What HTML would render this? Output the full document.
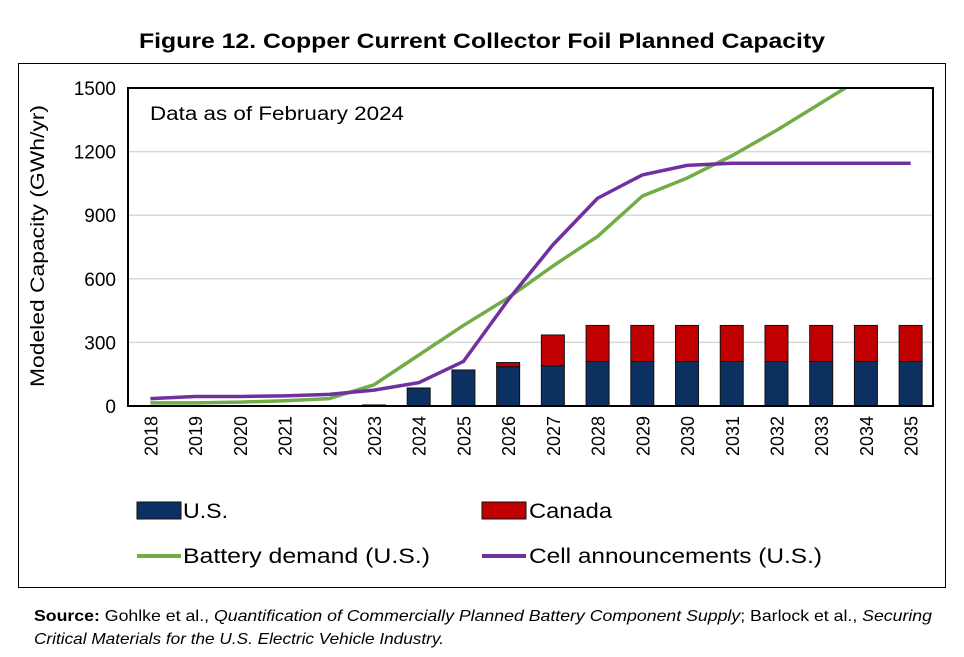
<!DOCTYPE html>
<html><head><meta charset="utf-8"><style>
body{margin:0;background:#fff;width:964px;height:652px;overflow:hidden;font-family:"Liberation Sans",sans-serif}
</style></head><body>
<svg id="c" width="964" height="652" viewBox="0 0 964 652" xmlns="http://www.w3.org/2000/svg">
<text x="482" y="48" text-anchor="middle" font-size="21" font-weight="bold" textLength="686" lengthAdjust="spacingAndGlyphs">Figure 12. Copper Current Collector Foil Planned Capacity</text>
<rect x="18.5" y="63.5" width="927" height="524" fill="none" stroke="#000" stroke-width="1"/>
<g id="grid"></g><g id="bars"></g><g id="lines"></g><g id="axes"></g>
<text x="150" y="120" font-size="19" textLength="254" lengthAdjust="spacingAndGlyphs">Data as of February 2024</text>
<text transform="translate(44,246) rotate(-90)" text-anchor="middle" font-size="19" textLength="282" lengthAdjust="spacingAndGlyphs">Modeled Capacity (GWh/yr)</text>
<g>
<rect x="137" y="502" width="44" height="17" fill="#0c3060" stroke="#111"/>
<text x="183" y="518" font-size="21" textLength="45" lengthAdjust="spacingAndGlyphs">U.S.</text>
<rect x="482" y="502" width="44" height="17" fill="#c00000" stroke="#111"/>
<text x="529" y="518" font-size="21" textLength="83" lengthAdjust="spacingAndGlyphs">Canada</text>
<line x1="137" y1="556" x2="181" y2="556" stroke="#70ad47" stroke-width="4"/>
<text x="183" y="563" font-size="21" textLength="247" lengthAdjust="spacingAndGlyphs">Battery demand (U.S.)</text>
<line x1="482" y1="556" x2="526" y2="556" stroke="#7030a0" stroke-width="4"/>
<text x="529" y="563" font-size="21" textLength="293" lengthAdjust="spacingAndGlyphs">Cell announcements (U.S.)</text>
</g>
<text x="34" y="621" font-size="16" textLength="898" lengthAdjust="spacingAndGlyphs"><tspan font-weight="bold">Source:</tspan> Gohlke et al., <tspan font-style="italic">Quantification of Commercially Planned Battery Component Supply</tspan>; Barlock et al., <tspan font-style="italic">Securing</tspan></text>
<text x="34" y="644" font-size="16" font-style="italic" textLength="410" lengthAdjust="spacingAndGlyphs">Critical Materials for the U.S. Electric Vehicle Industry.</text>
</svg>
<script>
const years=['2018','2019','2020','2021','2022','2023','2024','2025','2026','2027','2028','2029','2030','2031','2032','2033','2034','2035'];
const usValues=[0,0,0,0,0,5,85,170,185,190,210,210,210,210,210,210,210,210];
const canadaValues=[0,0,0,0,0,0,0,0,20,145,170,170,170,170,170,170,170,170];
const batteryDemand=[15,15,18,25,35,100,240,380,510,660,800,990,1075,1180,1300,1430,1560,1700];
const cellAnnouncements=[35,45,45,48,55,75,110,210,500,760,980,1090,1135,1145,1145,1145,1145,1145];
const yTicks=[0,300,600,900,1200,1500];
const NS='http://www.w3.org/2000/svg';
const L=128,R=933,T=88,B=406,YMAX=1500;
const step=(R-L)/years.length;
function x(i){return L+step*(i+0.5);}
function y(v){return B-(v/YMAX)*(B-T);}
function mk(tag,attrs,parent){const e=document.createElementNS(NS,tag);for(const k in attrs)e.setAttribute(k,attrs[k]);parent.appendChild(e);return e;}
const grid=document.getElementById('grid'),bars=document.getElementById('bars'),lines=document.getElementById('lines'),axes=document.getElementById('axes');
yTicks.forEach(t=>{
 if(t>0&&t<YMAX){const g=mk('line',{x1:L,x2:R,y1:y(t),y2:y(t),stroke:'#d9d9d9','stroke-width':1.5},grid);
 
 }
 const tx=mk('text',{x:L-12,y:y(t)+7,'text-anchor':'end','font-size':19},axes);tx.textContent=t;
 
 
});
const bw=23;
years.forEach((yr,i)=>{
 if(usValues[i]>0){const r=mk('rect',{x:x(i)-bw/2,y:y(usValues[i]),width:bw,height:B-y(usValues[i]),fill:'#0c3060',stroke:'#111','stroke-width':1},bars);
 
 }
 if(canadaValues[i]>0){const top=usValues[i]+canadaValues[i];const r=mk('rect',{x:x(i)-bw/2,y:y(top),width:bw,height:y(usValues[i])-y(top),fill:'#c00000',stroke:'#111','stroke-width':1},bars);
 
 }
 const tx=mk('text',{transform:`translate(${x(i)+7},${B+50}) rotate(-90)`,'font-size':18},axes);tx.textContent=yr;
 
 
});
const cp=mk('clipPath',{id:'clp'},lines);mk('rect',{x:L,y:T,width:R-L,height:B-T},cp);
function line(vals,color,name){const p=mk('polyline',{points:vals.map((v,i)=>x(i)+','+y(v)).join(' '),fill:'none',stroke:color,'stroke-width':3.5,'stroke-linejoin':'round','clip-path':'url(#clp)'},lines);
 
 }
line(batteryDemand,'#70ad47','battery-demand-line');
line(cellAnnouncements,'#7030a0','cell-announcements-line');
const ax=mk('rect',{x:L,y:T,width:R-L,height:B-T,fill:'none',stroke:'#000','stroke-width':2},axes);


</script>
</body></html>
